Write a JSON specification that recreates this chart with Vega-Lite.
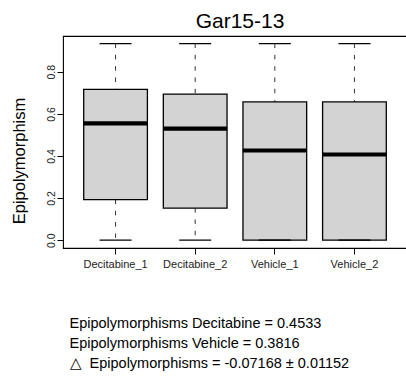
{
  "$schema": "https://vega.github.io/schema/vega-lite/v6.json",
  "width": 344,
  "height": 212,
  "autosize": "none",
  "padding": {"left": 63, "top": 36, "right": 0, "bottom": 131},
  "background": "white",
  "config": {
    "font": "Liberation Sans",
    "view": {"stroke": "black", "strokeWidth": 1.1},
    "axis": {"grid": false, "domain": false, "tickColor": "black", "tickWidth": 1, "tickSize": 6, "labelColor": "#222", "titleColor": "black", "titleFontWeight": "normal"}
  },
  "title": {
    "text": "Gar15-13",
    "fontSize": 21,
    "fontWeight": "normal",
    "color": "black",
    "anchor": "middle",
    "frame": "group",
    "baseline": "alphabetic",
    "offset": 4,
    "dx": 5,
    "dy": 17
  },
  "data": {
    "values": [
      {"group": "Decitabine_1", "min": 0, "q1": 0.193, "median": 0.555, "q3": 0.716, "max": 0.934},
      {"group": "Decitabine_2", "min": 0, "q1": 0.152, "median": 0.530, "q3": 0.694, "max": 0.934},
      {"group": "Vehicle_1", "min": 0, "q1": 0, "median": 0.426, "q3": 0.657, "max": 0.934},
      {"group": "Vehicle_2", "min": 0, "q1": 0, "median": 0.407, "q3": 0.657, "max": 0.934}
    ]
  },
  "encoding": {
    "x": {
      "field": "group",
      "type": "nominal",
      "sort": null,
      "scale": {"paddingInner": 0.2, "paddingOuter": 0.26},
      "axis": {
        "labelAngle": 0,
        "labelFontSize": 11,
        "labelPadding": 4,
        "title": [
          "Epipolymorphisms Decitabine = 0.4533",
          "Epipolymorphisms Vehicle = 0.3816",
          "△\u00a0\u00a0Epipolymorphisms = -0.07168 ± 0.01152"
        ],
        "titleFontSize": 14.5,
        "titleAlign": "left",
        "titleBaseline": "alphabetic",
        "titleLineHeight": 19.7,
        "titleX": 6,
        "titleY": 79.7
      }
    }
  },
  "layer": [
    {
      "mark": {"type": "rule", "stroke": "#333", "strokeWidth": 1, "strokeDash": [4.5, 6.8]},
      "encoding": {
        "y": {"field": "max", "type": "quantitative", "title": "Epipolymorphism"},
        "y2": {"field": "q3"}
      }
    },
    {
      "mark": {"type": "rule", "stroke": "#333", "strokeWidth": 1, "strokeDash": [4.5, 6.8]},
      "encoding": {
        "y": {"field": "q1", "type": "quantitative", "title": "Epipolymorphism"},
        "y2": {"field": "min"}
      }
    },
    {
      "mark": {"type": "bar", "fill": "#D3D3D3", "stroke": "black", "strokeWidth": 1.3, "opacity": 1},
      "encoding": {
        "y": {
          "field": "q1",
          "type": "quantitative",
          "scale": {"domain": [-0.0373, 0.970], "nice": false, "zero": false},
          "axis": {
            "values": [0, 0.2, 0.4, 0.6, 0.8],
            "format": ".1f",
            "labelAngle": -90,
            "labelAlign": "center",
            "labelBaseline": "alphabetic",
            "labelFontSize": 10.5,
            "labelPadding": 2.2,
            "title": "Epipolymorphism",
            "titleFontSize": 16.5,
            "titleAngle": -90,
            "titleAlign": "center",
            "titleBaseline": "alphabetic",
            "titleX": -38.3,
            "titleY": 124.5
          }
        },
        "y2": {"field": "q3"}
      }
    },
    {
      "mark": {"type": "tick", "color": "black", "opacity": 1, "size": 32, "thickness": 1.3},
      "encoding": {"y": {"field": "max", "type": "quantitative", "title": "Epipolymorphism"}}
    },
    {
      "mark": {"type": "tick", "color": "black", "opacity": 1, "size": 32, "thickness": 1.3},
      "encoding": {"y": {"field": "min", "type": "quantitative", "title": "Epipolymorphism"}}
    },
    {
      "mark": {"type": "tick", "color": "black", "opacity": 1, "size": 64, "thickness": 4.2},
      "encoding": {"y": {"field": "median", "type": "quantitative", "title": "Epipolymorphism"}}
    }
  ]
}
